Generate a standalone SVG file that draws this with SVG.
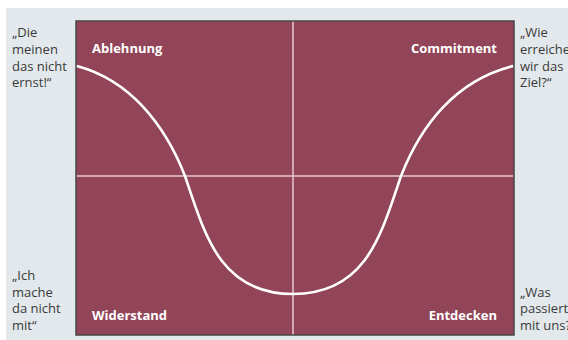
<svg xmlns="http://www.w3.org/2000/svg" width="568" height="340" viewBox="0 0 568 340">
<style>
.side{font-family:"Open Sans","Liberation Sans",sans-serif;font-size:13px;fill:#3a3a3a}
.lbl{font-family:"Open Sans","Liberation Sans",sans-serif;font-size:13px;font-weight:bold;fill:#ffffff}
.axis{stroke:#e6c9d0;stroke-opacity:0.75;stroke-width:2;fill:none}
.curve{stroke:#ffffff;stroke-width:2.6;fill:none}
</style>
<rect x="0" y="0" width="568" height="340" fill="#ffffff"/>
<rect x="6" y="8" width="562" height="332" fill="#e2e8eb"/>
<g id="panel">
<rect x="76" y="21" width="438" height="314" fill="#924459" stroke="#474747" stroke-width="1.5"/>
</g>
<g id="connectors">
<line class="axis" x1="293" y1="21.8" x2="293" y2="334.2"/>
<line class="axis" x1="76.8" y1="176" x2="513.2" y2="176"/>
<path class="curve" d="M76.8,66 C130,80 165,125 185,176 C205,235 220,294 293,294 C366,294 381,235 401,176 C421,125 456,80 513.2,66"/>
</g>
<g id="ablehnung"><text class="lbl" x="92" y="53">Ablehnung</text></g>
<g id="commitment"><text class="lbl" x="497" y="53" text-anchor="end">Commitment</text></g>
<g id="widerstand"><text class="lbl" x="92" y="320">Widerstand</text></g>
<g id="entdecken"><text class="lbl" x="497" y="320" text-anchor="end">Entdecken</text></g>
<g id="quote-tl"><text class="side">
<tspan x="12" y="37">„Die</tspan><tspan x="12" y="54">meinen</tspan><tspan x="12" y="71">das nicht</tspan><tspan x="12" y="87">ernst!“</tspan></text></g>
<g id="quote-bl"><text class="side">
<tspan x="12" y="280">„Ich</tspan><tspan x="12" y="297">mache</tspan><tspan x="12" y="313">da nicht</tspan><tspan x="12" y="330">mit“</tspan></text></g>
<g id="quote-tr"><text class="side">
<tspan x="520" y="37">„Wie</tspan><tspan x="520" y="54">erreichen</tspan><tspan x="520" y="71">wir das</tspan><tspan x="520" y="87">Ziel?“</tspan></text></g>
<g id="quote-br"><text class="side">
<tspan x="520" y="297">„Was</tspan><tspan x="520" y="313">passiert</tspan><tspan x="520" y="330">mit uns?</tspan></text></g>
</svg>
